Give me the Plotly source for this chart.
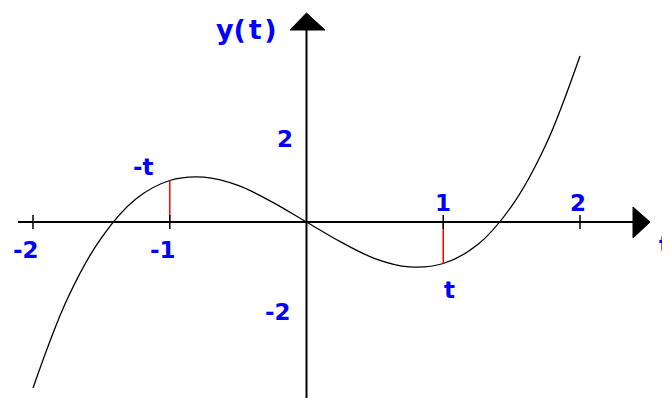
import plotly.graph_objects as go

# curve samples
t_vals = [-2.0, -1.75, -1.5, -1.25, -1.0, -0.75, -0.5, -0.25, 0.0,
          0.25, 0.5, 0.75, 1.0, 1.25, 1.5, 1.75, 2.0]
y_vals = [-4.0, -1.86, -0.38, 0.55, 1.0, 1.08, 0.88, 0.48, 0.0,
          -0.48, -0.88, -1.08, -1.0, -0.55, 0.38, 1.86, 4.0]

# red markers at -t and t
mark_t = [-1.0, 1.0]
mark_y = [1.0, -1.0]
mark_text = ["-t", "t"]

# tick labels
x_ticks = [-2, -1, 1, 2]
x_tick_text = ["-2", "-1", "1", "2"]
y_ticks = [2, -2]
y_tick_text = ["2", "-2"]

# page has an 8px body margin, so the figure is drawn 8px in from the corner
PAD = 8
W, H = 670 - PAD, 398 - PAD
ox, oy, ux, uy = 306.5 - PAD, 222.0 - PAD, 136.75, 41.5
xr = [-ox / ux, (W - ox) / ux]
yr = [-(H - oy) / uy, oy / uy]


def dx(px):  # screen pixel -> data x
    return (px - PAD - ox) / ux


def dy(py):  # screen pixel -> data y
    return (oy - (py - PAD)) / uy


blue = "#0000ff"
fnt = dict(family="DejaVu Sans", size=23, color=blue)

fig = go.Figure()
fig.add_trace(go.Scatter(x=t_vals, y=y_vals, mode="lines",
                         line=dict(color="black", width=1.3, shape="spline"),
                         hoverinfo="skip"))
for tx, ty in zip(mark_t, mark_y):
    fig.add_trace(go.Scatter(x=[tx, tx], y=[0, ty], mode="lines",
                             line=dict(color="#ff0000", width=1.5), hoverinfo="skip"))

shapes = []
# axes
shapes.append(dict(type="line", x0=dx(18), x1=dx(640), y0=0, y1=0, line=dict(color="black", width=2)))
shapes.append(dict(type="line", x0=0, x1=0, y0=yr[0], y1=dy(22), line=dict(color="black", width=2)))
# arrow heads
shapes.append(dict(type="path",
                   path="M %f %f L %f 0 L %f %f Z" % (dx(633), dy(207), dx(650), dx(633), dy(238)),
                   fillcolor="black", line=dict(color="black", width=1)))
shapes.append(dict(type="path",
                   path="M %f %f L 0 %f L %f %f Z" % (dx(290), dy(30), dy(13), dx(325), dy(30)),
                   fillcolor="black", line=dict(color="black", width=1)))
# tick marks
for xt in x_ticks:
    shapes.append(dict(type="line", x0=xt, x1=xt, y0=dy(229), y1=dy(215), line=dict(color="black", width=1.5)))

ann = []
x_label_px = {-2: (26, 250), -1: (163, 250), 1: (443, 203), 2: (578, 203)}
for xt, tt in zip(x_ticks, x_tick_text):
    px, py = x_label_px[xt]
    ann.append(dict(x=dx(px), y=dy(py), text="<b>%s</b>" % tt, showarrow=False, font=fnt))
y_label_px = {2: (285, 139), -2: (278, 312)}
for yt, tt in zip(y_ticks, y_tick_text):
    px, py = y_label_px[yt]
    ann.append(dict(x=dx(px), y=dy(py), text="<b>%s</b>" % tt, showarrow=False, font=fnt))
ann.append(dict(x=dx(246), y=dy(29), text="<b>y(\u200at\u200a)</b>", showarrow=False,
                font=dict(family="DejaVu Sans", size=27, color=blue)))
ann.append(dict(x=dx(664), y=dy(245), text="<b>t</b>", showarrow=False, font=fnt))
ann.append(dict(x=dx(143), y=dy(167), text="<b>%s</b>" % mark_text[0], showarrow=False, font=fnt))
ann.append(dict(x=dx(449), y=dy(290), text="<b>%s</b>" % mark_text[1], showarrow=False, font=fnt))

fig.update_layout(
    width=W, height=H, margin=dict(l=0, r=0, t=0, b=0),
    paper_bgcolor="white", plot_bgcolor="white", showlegend=False,
    xaxis=dict(range=xr, visible=False, fixedrange=True),
    yaxis=dict(range=yr, visible=False, fixedrange=True),
    shapes=shapes, annotations=ann,
)
fig.write_html("out.html")
